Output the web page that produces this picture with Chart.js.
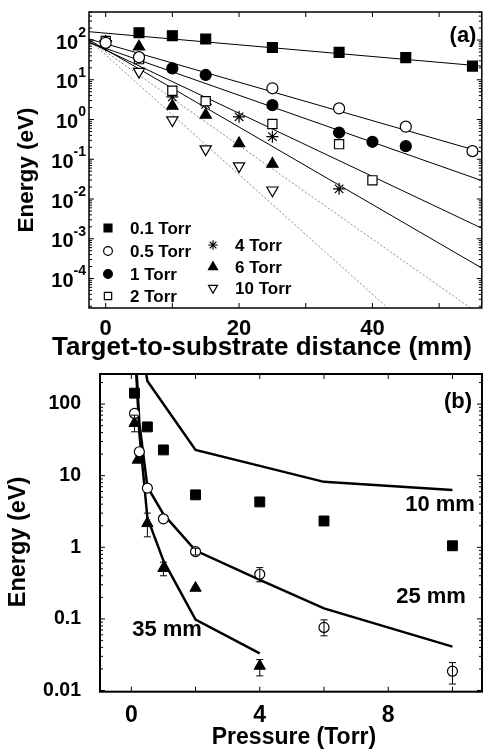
<!DOCTYPE html>
<html>
<head>
<meta charset="utf-8">
<script src="https://cdn.jsdelivr.net/npm/chart.js@4.4.1/dist/chart.umd.min.js"></script>
<style>
  html, body { margin: 0; padding: 0; background: #fff; }
  #wrap { position: relative; width: 490px; height: 752px; }
  #topChart { position: absolute; left: 0; top: 0; }
  #bottomChart { position: absolute; left: 0; top: 360px; }
</style>
</head>
<body>
<div id="wrap">
  <canvas id="topChart" width="490" height="360"></canvas>
  <canvas id="bottomChart" width="490" height="392"></canvas>
</div>
<script>
// ---------- panel (a): energy vs target-to-substrate distance ----------
const distLabels = ['0.1 Torr', '0.5 Torr', '1 Torr', '2 Torr', '4 Torr', '6 Torr', '10 Torr'];

const dist01 = [5, 10, 15, 25, 35, 45, 55];
const energy01 = [153, 128, 106, 65, 49, 36, 22];
const dist05 = [0, 5, 25, 35, 45, 55];
const energy05 = [85, 37, 6.1, 1.9, 0.66, 0.16];
const dist1 = [10, 15, 25, 35, 40, 45];
const energy1 = [19.4, 13.2, 2.3, 0.47, 0.275, 0.214];
const dist2 = [0, 5, 10, 15, 25, 35, 40];
const energy2 = [95, 33, 5.3, 2.9, 0.77, 0.24, 0.0295];
const dist4 = [0, 10, 15, 20, 25, 35];
const energy4 = [95, 3.7, 2.4, 1.17, 0.37, 0.018];
const dist6 = [5, 10, 15, 20, 25];
const energy6 = [68, 2.2, 1.3, 0.25, 0.076];
const dist10 = [0, 5, 10, 15, 20, 25];
const energy10 = [80, 16, 0.97, 0.18, 0.067, 0.0166];

// fitted exponential decays (straight on log axis), start and end points
const fitDist01 = [-2.5, 56.4], fitEnergy01 = [162, 22.1];
const fitDist05 = [-2.5, 56.4], fitEnergy05 = [106, 0.151];
const fitDist1 = [-2.5, 56.4], fitEnergy1 = [86.5, 0.029];
const fitDist2 = [-2.5, 56.4], fitEnergy2 = [88.5, 0.00184];
const fitDist4 = [-2.5, 56.4], fitEnergy4 = [101, 0.000183];
const fitDist6 = [-2.5, 54.7], fitEnergy6 = [100, 0.0000181];
const fitDist10 = [-2.5, 42.3], fitEnergy10 = [100, 0.0000181];

const xTicksA = [0, 20, 40];
const xMinorA = [0, 10, 20, 30, 40, 50];
const yExpA = [-4, -3, -2, -1, 0, 1, 2];

// ---------- panel (b): energy vs pressure ----------
const press10 = [0.1, 0.5, 1, 2, 4, 6, 10];
const energyB10 = [142, 48, 22.9, 5.4, 4.3, 2.33, 1.05];
const press25 = [0.1, 0.25, 0.5, 1, 2, 4, 6, 10];
const energyB25 = [74, 21.6, 6.7, 2.5, 0.87, 0.42, 0.076, 0.0186];
const errLo25 = [null, null, null, null, 0.78, 0.33, 0.058, 0.0123];
const errHi25 = [null, null, null, null, 0.97, 0.52, 0.097, 0.0245];
const press35 = [0.1, 0.2, 0.5, 1, 2, 4];
const energyB35 = [54, 16.6, 2.16, 0.51, 0.27, 0.022];
const errLo35 = [41, null, 1.4, 0.40, null, 0.016];
const errHi35 = [70, null, 3.0, 0.62, null, 0.027];

const calcP10 = [0.25, 0.5, 1, 2, 4, 6, 10];
const calcE10 = [1000, 210, 100, 22.9, 13.7, 8.2, 6.3];
const calcP25 = [0.1, 0.25, 0.5, 1, 2, 4, 6, 10];
const calcE25 = [1000, 55, 7, 2.9, 0.9, 0.35, 0.14, 0.041];
const calcP35 = [0.1, 0.25, 0.5, 1, 2, 4];
const calcE35 = [800, 40, 2.6, 0.65, 0.098, 0.033];

const pTicksA = [0, 4, 8];
const pMinorA = [0, 2, 4, 6, 8, 10];
const bTicksA = [0.01, 0.1, 1, 10, 100];

const fam = '"Liberation Sans", Arial, Helvetica, sans-serif';
Chart.defaults.font.family = fam;
Chart.defaults.color = '#000';

function pts(xs, ys) { return xs.map((x, i) => ({x: x, y: ys[i]})); }

// marker looks for the seven pressures in panel (a)
const markA = [
  {style: 'rect', r: 7, fill: '#000', rot: 0},
  {style: 'circle', r: 5.5, fill: '#fff', rot: 0},
  {style: 'circle', r: 5.5, fill: '#000', rot: 0},
  {style: 'rect', r: 6.5, fill: '#fff', rot: 0},
  {style: 'star', r: 6, fill: '#000', rot: 0},
  {style: 'triangle', r: 6.5, fill: '#000', rot: 0},
  {style: 'triangle', r: 6.5, fill: '#fff', rot: 180}
];

// frame with inward ticks on all four sides
function framePlugin(xMinor, major, minor, border) {
  return {
    id: 'frame',
    afterDraw(chart) {
      const {ctx, chartArea: a} = chart;
      const xs = chart.scales.x, ys = chart.scales.y;
      ctx.save();
      ctx.strokeStyle = '#000';
      ctx.lineWidth = 1;
      ctx.beginPath();
      xMinor.forEach(v => {
        const px = xs.getPixelForValue(v);
        ctx.moveTo(px, a.bottom); ctx.lineTo(px, a.bottom - major);
        ctx.moveTo(px, a.top); ctx.lineTo(px, a.top + major);
      });
      const e0 = Math.floor(Math.log10(ys.min)), e1 = Math.ceil(Math.log10(ys.max));
      for (let e = e0; e <= e1; e++) {
        for (let m = 1; m < 10; m++) {
          const v = m * Math.pow(10, e);
          if (v < ys.min || v > ys.max) continue;
          const py = ys.getPixelForValue(v);
          const len = m === 1 ? major : minor;
          ctx.moveTo(a.left, py); ctx.lineTo(a.left + len, py);
          ctx.moveTo(a.right, py); ctx.lineTo(a.right - len, py);
        }
      }
      ctx.stroke();
      ctx.lineWidth = border;
      ctx.strokeRect(a.left, a.top, a.right - a.left, a.bottom - a.top);
      ctx.restore();
    }
  };
}

function notesPlugin(items) {
  return {
    id: 'notes',
    afterDraw(chart) {
      const ctx = chart.ctx;
      items.forEach(it => {
        ctx.save();
        ctx.font = 'bold ' + it.size + 'px ' + fam;
        ctx.fillStyle = '#000';
        ctx.textAlign = 'center';
        ctx.textBaseline = 'middle';
        ctx.translate(it.x, it.y);
        if (it.rot) ctx.rotate(it.rot);
        ctx.fillText(it.text, 0, 0);
        ctx.restore();
      });
    }
  };
}

// 10^n labels with a raised exponent
const decadePlugin = {
  id: 'decades',
  afterDraw(chart) {
    const ctx = chart.ctx, ys = chart.scales.y;
    ctx.save();
    ctx.fillStyle = '#000';
    ctx.textBaseline = 'middle';
    ctx.textAlign = 'right';
    yExpA.forEach(e => {
      const py = ys.getPixelForValue(Math.pow(10, e));
      const sup = String(e);
      ctx.font = 'bold 14px ' + fam;
      ctx.fillText(sup, 86, py - 7);
      const w = ctx.measureText(sup).width;
      ctx.font = 'bold 20px ' + fam;
      ctx.fillText('10', 86 - w, py + 3);
    });
    ctx.restore();
  }
};

const legendPlugin = {
  id: 'markLegend',
  afterDraw(chart) {
    const ctx = chart.ctx;
    const cols = [{x: 108, rows: [228, 251, 274, 296]}, {x: 213, rows: [245, 267, 288]}];
    let k = 0;
    ctx.save();
    cols.forEach(c => c.rows.forEach(yy => {
      const st = markA[k];
      ctx.fillStyle = st.fill;
      ctx.strokeStyle = '#000';
      ctx.lineWidth = 1.2;
      Chart.helpers.drawPoint(ctx, {pointStyle: st.style, radius: st.r * 0.8, rotation: st.rot, borderWidth: 1.2}, c.x, yy);
      ctx.fillStyle = '#000';
      ctx.font = 'bold 17px ' + fam;
      ctx.textAlign = 'left';
      ctx.textBaseline = 'middle';
      ctx.fillText(distLabels[k], c.x + 22, yy + 1);
      k++;
    }));
    ctx.restore();
  }
};

const errorPlugin = {
  id: 'errorBars',
  afterDatasetsDraw(chart) {
    const ctx = chart.ctx, xs = chart.scales.x, ys = chart.scales.y;
    ctx.save();
    ctx.strokeStyle = '#000';
    ctx.lineWidth = 1;
    ctx.beginPath();
    chart.data.datasets.forEach(ds => {
      if (!ds.errLo) return;
      ds.data.forEach((p, i) => {
        if (ds.errLo[i] == null) return;
        const px = xs.getPixelForValue(p.x);
        const y1 = ys.getPixelForValue(ds.errLo[i]);
        const y2 = ys.getPixelForValue(ds.errHi[i]);
        ctx.moveTo(px, y1); ctx.lineTo(px, y2);
        ctx.moveTo(px - 3.5, y1); ctx.lineTo(px + 3.5, y1);
        ctx.moveTo(px - 3.5, y2); ctx.lineTo(px + 3.5, y2);
      });
    });
    ctx.stroke();
    ctx.restore();
  }
};

// ---------- chart (a) ----------
const seriesA = [
  [dist01, energy01], [dist05, energy05], [dist1, energy1], [dist2, energy2],
  [dist4, energy4], [dist6, energy6], [dist10, energy10]
];
const fitsA = [
  [fitDist01, fitEnergy01], [fitDist05, fitEnergy05], [fitDist1, fitEnergy1], [fitDist2, fitEnergy2],
  [fitDist4, fitEnergy4], [fitDist6, fitEnergy6], [fitDist10, fitEnergy10]
];

const dsA = [];
fitsA.forEach((f, i) => {
  const dotted = i >= 5;
  dsA.push({
    data: pts(f[0], f[1]), showLine: true, pointRadius: 0, order: 1,
    borderColor: dotted ? '#8a8a8a' : '#000', borderWidth: 1,
    borderDash: dotted ? [2, 2] : []
  });
});
seriesA.forEach((s, i) => {
  dsA.push({
    label: distLabels[i], data: pts(s[0], s[1]), showLine: false, order: 0,
    pointStyle: markA[i].style, pointRadius: markA[i].r, pointRotation: markA[i].rot,
    pointBackgroundColor: markA[i].fill, pointBorderColor: '#000', pointBorderWidth: 1.2
  });
});

new Chart(document.getElementById('topChart'), {
  type: 'scatter',
  data: {datasets: dsA},
  options: {
    responsive: false, animation: false, devicePixelRatio: 1,
    layout: {padding: {left: 0, top: 12, right: 3, bottom: 0}},
    plugins: {legend: {display: false}, tooltip: {enabled: false}},
    scales: {
      x: {
        type: 'linear', min: -2.5, max: 56.4,
        grid: {display: false}, border: {display: false},
        afterBuildTicks: s => { s.ticks = xTicksA.map(v => ({value: v})); },
        afterFit: s => { s.height = 52; s.paddingLeft = 0; s.paddingRight = 0; },
        ticks: {padding: 0, maxRotation: 0, font: {size: 22, weight: 'bold'}, callback: v => String(v)}
      },
      y: {
        type: 'logarithmic', min: 1.81e-5, max: 507,
        grid: {display: false}, border: {display: false},
        afterBuildTicks: s => { s.ticks = yExpA.map(e => ({value: Math.pow(10, e)})); },
        afterFit: s => { s.width = 89; s.paddingTop = 0; s.paddingBottom = 0; },
        ticks: {display: false}
      }
    }
  },
  plugins: [
    framePlugin(xMinorA, 5, 3, 1.5), decadePlugin, legendPlugin,
    notesPlugin([
      {text: '(a)', x: 463, y: 36, size: 22},
      {text: 'Energy (eV)', x: 27, y: 170, size: 22.5, rot: -Math.PI / 2},
      {text: 'Target-to-substrate distance (mm)', x: 262, y: 348, size: 26}
    ])
  ]
});

// ---------- chart (b) ----------
const dsB = [
  {data: pts(calcP10, calcE10), showLine: true, pointRadius: 0, order: 1, borderColor: '#000', borderWidth: 2.5},
  {data: pts(calcP25, calcE25), showLine: true, pointRadius: 0, order: 1, borderColor: '#000', borderWidth: 2.5},
  {data: pts(calcP35, calcE35), showLine: true, pointRadius: 0, order: 1, borderColor: '#000', borderWidth: 2.5},
  {label: '10 mm', data: pts(press10, energyB10), showLine: false, order: 0,
   pointStyle: 'rect', pointRadius: 7, pointBackgroundColor: '#000', pointBorderColor: '#000', pointBorderWidth: 1},
  {label: '25 mm', data: pts(press25, energyB25), showLine: false, order: 0, errLo: errLo25, errHi: errHi25,
   pointStyle: 'circle', pointRadius: 5, pointBackgroundColor: '#fff', pointBorderColor: '#000', pointBorderWidth: 1.2},
  {label: '35 mm', data: pts(press35, energyB35), showLine: false, order: 0, errLo: errLo35, errHi: errHi35,
   pointStyle: 'triangle', pointRadius: 6.5, pointBackgroundColor: '#000', pointBorderColor: '#000', pointBorderWidth: 1}
];

new Chart(document.getElementById('bottomChart'), {
  type: 'scatter',
  data: {datasets: dsB},
  options: {
    responsive: false, animation: false, devicePixelRatio: 1,
    layout: {padding: {left: 0, top: 14, right: 3.3, bottom: 0}},
    plugins: {legend: {display: false}, tooltip: {enabled: false}},
    scales: {
      x: {
        type: 'linear', min: -0.975, max: 10.92,
        grid: {display: false}, border: {display: false},
        afterBuildTicks: s => { s.ticks = pTicksA.map(v => ({value: v})); },
        afterFit: s => { s.height = 60.3; s.paddingLeft = 0; s.paddingRight = 0; },
        ticks: {padding: 2.5, maxRotation: 0, font: {size: 23, weight: 'bold'}, callback: v => String(v)}
      },
      y: {
        type: 'logarithmic', min: 0.00962, max: 263,
        grid: {display: false}, border: {display: false},
        afterBuildTicks: s => { s.ticks = bTicksA.map(v => ({value: v})); },
        afterFit: s => { s.width = 100; s.paddingTop = 0; s.paddingBottom = 0; },
        ticks: {padding: 11, font: {size: 19.5, weight: 'bold'}, callback: v => String(v)}
      }
    }
  },
  plugins: [
    framePlugin(pMinorA, 5, 3, 2), errorPlugin,
    notesPlugin([
      {text: '(b)', x: 458, y: 42, size: 22},
      {text: '10 mm', x: 440, y: 145, size: 22},
      {text: '25 mm', x: 431, y: 237, size: 22},
      {text: '35 mm', x: 167, y: 270, size: 22},
      {text: 'Energy (eV)', x: 19, y: 182, size: 23.5, rot: -Math.PI / 2},
      {text: 'Pressure (Torr)', x: 294, y: 378, size: 23}
    ])
  ]
});
</script>
</body>
</html>
